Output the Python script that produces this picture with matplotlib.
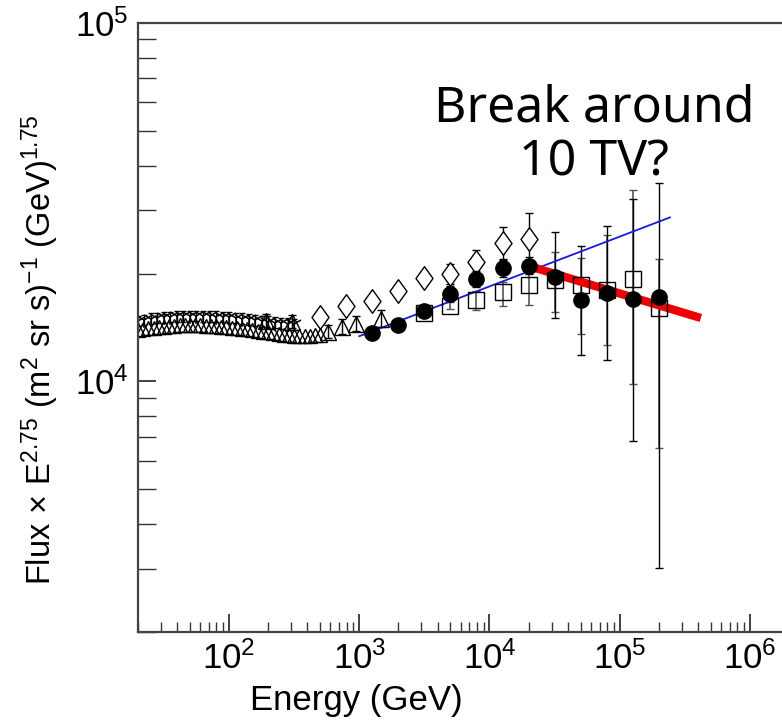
import numpy as np
import matplotlib.pyplot as plt
from matplotlib.path import Path

# energies are given as log10(E/GeV)
# dense low-energy triangles
tri_logE = [1.30, 1.34, 1.38, 1.42, 1.46, 1.50, 1.54, 1.58, 1.62, 1.66, 1.70, 1.74,
            1.78, 1.82, 1.86, 1.90, 1.94, 1.98, 2.02, 2.06, 2.10, 2.14, 2.18, 2.22,
            2.26, 2.30, 2.34, 2.38, 2.42, 2.46, 2.50, 2.54, 2.58, 2.62, 2.66, 2.70]
tri_F = [13900, 13980, 14060, 14120, 14180, 14230, 14280, 14300, 14330, 14350, 14350, 14350,
         14340, 14320, 14300, 14270, 14230, 14190, 14140, 14090, 14030, 13980, 13920, 13850,
         13780, 13700, 13630, 13560, 13500, 13450, 13410, 13380, 13370, 13400, 13440, 13480]

# star-like markers sitting just above the triangles
star_logE = [1.30, 1.35, 1.40, 1.45, 1.50, 1.55, 1.60, 1.65, 1.70, 1.75, 1.80, 1.85,
             1.90, 1.95, 2.00, 2.05, 2.10, 2.15, 2.20, 2.25, 2.30, 2.35, 2.40, 2.45, 2.50]
star_F = [14750, 14870, 14970, 15050, 15110, 15150, 15190, 15210, 15230, 15230, 15220, 15200,
          15170, 15140, 15100, 15040, 14970, 14900, 14820, 14740, 14660, 14590, 14520, 14460, 14420]
star_err = [500, 500, 510, 510, 520, 520, 520, 530, 530, 530, 530, 530,
            530, 530, 530, 530, 530, 530, 530, 530, 530, 530, 530, 530, 530]

# sparse larger triangles
btri_logE = [2.28, 2.48, 2.76, 2.87, 2.975, 3.17]
btri_F = [14790, 14650, 13780, 14220, 14500, 14960]
btri_lo = [14200, 14050, 13200, 13600, 13800, 14200]
btri_hi = [15400, 15300, 14400, 14900, 15200, 15800]

# open diamonds
dia_logE = [2.7, 2.9, 3.1, 3.3, 3.5, 3.7, 3.9, 4.1, 4.3]
dia_F = [15130, 16210, 16740, 17930, 19420, 19950, 21500, 24270, 24940]
dia_lo = [15130, 16210, 16740, 17930, 19420, 18720, 19840, 21830, 21180]
dia_hi = [15130, 16210, 16740, 17930, 19420, 21280, 23310, 26980, 29420]

# filled circles
circ_logE = [3.1, 3.3, 3.5, 3.7, 3.9, 4.1, 4.3, 4.5, 4.7, 4.9, 5.1, 5.3]
circ_F = [13690, 14330, 15750, 17480, 19310, 20700, 21040, 19580, 16830, 17660, 17020, 17180]
circ_lo = [13400, 14000, 15300, 16800, 18400, 19600, 19900, 15030, 11830, 11460, 6820, 3010]
circ_hi = [14000, 14700, 16200, 18500, 20300, 21900, 22300, 26160, 23830, 27170, 32210, 35700]

# open squares
sq_logE = [3.5, 3.7, 3.9, 4.1, 4.3, 4.5, 4.7, 4.9, 5.1, 5.3]
sq_F = [15560, 16260, 16870, 17780, 18590, 19190, 18590, 17940, 19310, 16020]
sq_lo = [15250, 15900, 15850, 16230, 16300, 15660, 13520, 12670, 9810, 6520]
sq_hi = [15870, 16620, 17900, 18900, 21000, 23010, 22060, 25600, 34200, 21960]

# fitted lines
blue_E = [1.0e3, 2.43e5]
blue_F = [13370, 28680]
red_E = [2.15e4, 4.2e5]
red_F = [20830, 15030]

plt.rcParams['font.family'] = ['Liberation Sans', 'DejaVu Sans']
plt.rcParams['mathtext.fontset'] = 'custom'
plt.rcParams['mathtext.rm'] = 'Liberation Sans'
plt.rcParams['mathtext.it'] = 'Liberation Sans'


def to_E(logs):
    return 10 ** np.array(logs)


def yerr(F, lo, hi):
    F = np.array(F)
    return [F - np.array(lo), np.array(hi) - F]


# a diamond a bit wider than matplotlib's thin 'd'
diamond = Path([(0, 1), (0.72, 0), (0, -1), (-0.72, 0), (0, 1)],
               [Path.MOVETO, Path.LINETO, Path.LINETO, Path.LINETO, Path.CLOSEPOLY])

fig = plt.figure(figsize=(7.82, 7.27), dpi=100)
ax = fig.add_axes([0.1765, 0.1307, 0.949, 0.8377])
ax.set_xscale('log')
ax.set_yscale('log')

ax.errorbar(to_E(star_logE), star_F, yerr=star_err, fmt='none', ecolor='k', elinewidth=0.9,
            capsize=2)
ax.plot(to_E(star_logE), star_F, ls='none', marker='1', ms=12, mec='k', mew=1.1)
ax.plot(to_E(tri_logE), tri_F, ls='none', marker='^', ms=10, mfc='none', mec='k', mew=1.0)
ax.errorbar(to_E(btri_logE), btri_F, yerr=yerr(btri_F, btri_lo, btri_hi), fmt='^', ms=12,
            mfc='none', mec='k', mew=1.0, ecolor='k', elinewidth=1, capsize=3)
ax.errorbar(to_E(dia_logE), dia_F, yerr=yerr(dia_F, dia_lo, dia_hi), fmt='none',
            ecolor='k', elinewidth=1, capsize=3)
ax.plot(to_E(dia_logE), dia_F, ls='none', marker=diamond, ms=17, mfc='white', mec='k', mew=1.0)
ax.errorbar(to_E(sq_logE), sq_F, yerr=yerr(sq_F, sq_lo, sq_hi), fmt='s', ms=11,
            mfc='none', mec='k', mew=1.0, ecolor='#555555', elinewidth=1.2, capsize=3)
ax.errorbar(to_E(circ_logE), circ_F, yerr=yerr(circ_F, circ_lo, circ_hi), fmt='o', ms=11,
            mfc='k', mec='k', ecolor='k', elinewidth=1, capsize=3)

ax.plot(blue_E, blue_F, color='#1a1ad6', lw=1.3)
ax.plot(red_E, red_F, color='#ee0000', lw=6, solid_capstyle='butt')

ax.set_xlim(20, 1e7)
ax.set_ylim(2000, 1e5)

ax.set_xticks([1e2, 1e3, 1e4, 1e5, 1e6])
ax.set_xticklabels([r'$10^{2}$', r'$10^{3}$', r'$10^{4}$', r'$10^{5}$', r'$10^{6}$'])
ax.set_yticks([1e4, 1e5])
ax.set_yticklabels([r'$10^{4}$', r'$10^{5}$'])
ax.tick_params(which='both', direction='in', labelsize=25, color='#333333')
ax.tick_params(which='major', length=13, width=1.3, pad=7)
ax.tick_params(which='minor', length=7, width=1.0)
ax.tick_params(axis='y', which='minor', length=13)
ax.minorticks_on()
for side in ['left', 'bottom', 'top']:
    ax.spines[side].set_linewidth(1.6)
    ax.spines[side].set_color('#444444')
ax.spines['right'].set_visible(False)

ax.set_xlabel('Energy (GeV)', fontsize=25)
ax.xaxis.set_label_coords(0.294, -0.085)
fig.text(0.051, 0.519, r'Flux$\,\times\,$E$^{2.75}$ (m$^{2}$ sr s)$^{-1}$ (GeV)$^{1.75}$',
         rotation=90, ha='center', va='center', fontsize=23.5)

fig.text(0.760, 0.814, 'Break around\n10 TV?', ha='center', va='center',
         fontsize=36, family=['Noto Sans', 'DejaVu Sans'], linespacing=1.1)

fig.savefig('out.png', dpi=100)
